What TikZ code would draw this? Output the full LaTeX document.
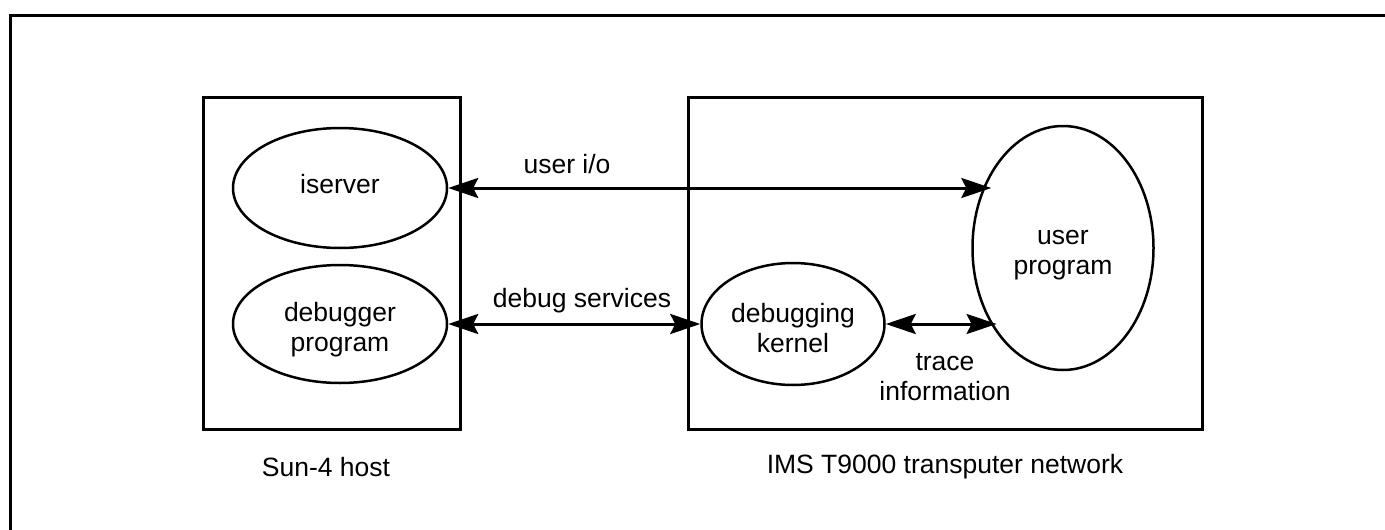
\documentclass[tikz,border=0pt]{standalone}
\usepackage{fontspec}
\setmainfont{Liberation Sans}
\usetikzlibrary{shapes.geometric,arrows.meta}
\begin{document}
\begin{tikzpicture}[x=1pt,y=-1pt,
  frame/.style={draw,line width=3pt},
  proc/.style={draw,ellipse,line width=2.5pt,inner sep=0pt},
  lbl/.style={align=center,font=\fontsize{26.5}{30}\selectfont,inner sep=0pt},
  tip/.tip={Stealth[length=30pt,width=20pt,inset=5pt]},
  arr/.style={line width=3pt,tip-tip}]
\useasboundingbox (0,0) rectangle (1385,530);
\begin{scope}
\clip (0,0) rectangle (1385,530);
\draw[frame] (10,15) rectangle (1400,560);
\end{scope}
\draw[frame] (203,97) rectangle (460,429);
\draw[frame] (688,97) rectangle (1202,429);
\node[proc,minimum width=214pt,minimum height=120pt] (iserver) at (340,188) {};
\node[proc,minimum width=214pt,minimum height=118pt] (debugger) at (340,324) {};
\node[proc,minimum width=183pt,minimum height=122pt] (kernel) at (793,324) {};
\node[proc,minimum width=181pt,minimum height=244pt] (userprog) at (1063,248) {};
\node[lbl] (t1) at ([yshift=4pt]iserver.center) {iserver};
\node[lbl] (t2) at ([yshift=-6pt]debugger.center) {debugger\\program};
\node[lbl] (t3) at ([yshift=-4pt]kernel.center) {debugging\\kernel};
\node[lbl] (t4) at ([yshift=-7pt]userprog.center) {user\\program};
\coordinate (ua) at (iserver.east -| userprog.133);
\coordinate (ub) at (kernel.east -| userprog.-128);
\draw[arr] (iserver.east) -- (ua);
\draw[arr] (debugger.east) -- (kernel.west);
\draw[arr] (kernel.east) -- (ub);
\node[lbl] (l1) at (567,164) {user i/o};
\node[lbl] (l2) at (582,301) {debug services};
\node[lbl] (l3) at (945,377) {trace\\information};
\node[lbl] (l4) at (326,467) {Sun-4 host};
\node[lbl] (l5) at (945,467) {IMS T9000 transputer network};
\end{tikzpicture}
\end{document}
